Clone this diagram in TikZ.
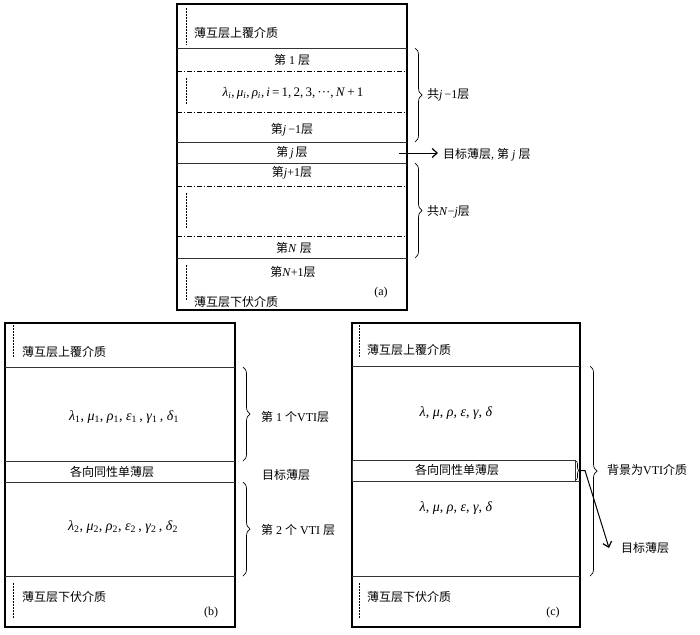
\documentclass[tikz,border=0pt]{standalone}
\usepackage{fontspec}
\setmainfont{Liberation Serif}
\newfontfamily\cjk{Noto Sans CJK SC}
\usetikzlibrary{decorations.pathreplacing,arrows.meta}

\newcommand\zh[1]{{\cjk #1}}
\newcommand\vi[1]{\textit{#1}}
\newcommand\sbs[1]{\textsubscript{#1}}

\begin{document}
\begin{tikzpicture}[x=1pt,y=-1pt,
	frame/.style={line width=1.1pt},
	sep/.style={line width=0.7pt, black!80},
	ddot/.style={line width=0.7pt, dash pattern=on 5pt off 2pt on 1pt off 2pt},
	tick/.style={line width=0.8pt, dash pattern=on 2pt off 1pt},
	brc/.style={decorate, decoration={brace, amplitude=7pt}, line width=0.7pt},
	txt/.style={inner sep=1pt, font=\fontsize{12}{14}\selectfont},
	formula/.style={font=\fontsize{14}{16}\selectfont},
	every node/.style={txt}]

	\useasboundingbox (0,0) rectangle (700,634);

	% ---- panel (a)

	\def\al{177}
	\def\ar{407}

	\draw[frame] (\al,4) rectangle (\ar,310);
	\draw[sep] (\al,48) -- (\ar,48);
	\draw[ddot] (\al,71) -- (\ar,71);
	\draw[ddot] (\al,112) -- (\ar,112);
	\draw[sep] (\al,142) -- (\ar,142);
	\draw[sep] (\al,163) -- (\ar,163);
	\draw[ddot] (\al,186) -- (\ar,186);
	\draw[ddot] (\al,236) -- (\ar,236);
	\draw[sep] (\al,258) -- (\ar,258);

	\foreach \ya/\yb in {8/45, 78/104, 193/228, 265/300} {
		\draw[tick] (186,\ya) -- (186,\yb);
	}

	\node[anchor=west] (topa) at (193,33) {\zh{薄互层上覆介质}};
	\node (l1a) at (292,60) {\zh{第} 1 \zh{层}};
	\node[font=\fontsize{13}{15}\selectfont] (pa) at (293,93) {\vi{λ}\sbs{\vi{i}},\,\vi{μ}\sbs{\vi{i}},\,\vi{ρ}\sbs{\vi{i}},\,\vi{i}\,=\,1,\,2,\,3,\,···,\,\vi{N}\,+\,1};
	\node (ljm) at (292,130) {\zh{第}\vi{j}\,−1\zh{层}};
	\node (lj) at (292,153) {\zh{第}\,\vi{j}\,\zh{层}};
	\node (ljp) at (292,173) {\zh{第}\vi{j}+1\zh{层}};
	\node (lN) at (294,248) {\zh{第}\vi{N} \zh{层}};
	\node (lNp) at (293,272) {\zh{第}\vi{N}+1\zh{层}};
	\node[anchor=west] (bota) at (193,302) {\zh{薄互层下伏介质}};
	\node (taga) at (381,293) {(a)};

	\draw[brc] (415,48) -- (415,142);
	\draw[brc] (415,163) -- (415,258);
	\node[anchor=west] (upa) at (426,95) {\zh{共}\vi{j}\,−1\zh{层}};
	\node[anchor=west] (dna) at (426,212) {\zh{共}\vi{N}−\vi{j}\zh{层}};

	\coordinate (ja) at (399,153);
	\node[anchor=west] (tgta) at (442,155) {\zh{目标薄层}, \zh{第} \vi{j} \zh{层}};
	\draw[line width=1pt, -{Straight Barb[length=5pt,width=9pt,line width=1.2pt]}] (ja) -- ([xshift=-4pt]tgta.west |- ja);

	% ---- panel (b)

	\def\bl{5}
	\def\br{235}

	\draw[frame] (\bl,323) rectangle (\br,627);
	\draw[sep] (\bl,367) -- (\br,367);
	\draw[sep] (\bl,461) -- (\br,461);
	\draw[sep] (\bl,482) -- (\br,482);
	\draw[sep] (\bl,576) -- (\br,576);

	\draw[tick] (13,325) -- (13,357);
	\draw[tick] (13,583) -- (13,618);

	\node[anchor=west] (topb) at (21,352) {\zh{薄互层上覆介质}};
	\node[formula] (p1b) at (124,417) {\vi{λ}\sbs{1}, \vi{μ}\sbs{1}, \vi{ρ}\sbs{1}, \vi{ε}\sbs{1}\,, \vi{γ}\sbs{1}\,, \vi{δ}\sbs{1}};
	\node (isob) at (112,472) {\zh{各向同性单薄层}};
	\node[formula] (p2b) at (123,527) {\vi{λ}\sbs{2}, \vi{μ}\sbs{2}, \vi{ρ}\sbs{2}, \vi{ε}\sbs{2}\,, \vi{γ}\sbs{2}\,, \vi{δ}\sbs{2}};
	\node[anchor=west] (botb) at (21,597) {\zh{薄互层下伏介质}};
	\node (tagb) at (211,613) {(b)};

	\draw[brc] (243,367) -- (243,461);
	\draw[brc] (243,482) -- (243,576);
	\node[anchor=west] (vt1) at (260,417) {\zh{第} 1 \zh{个}VTI\zh{层}};
	\node[anchor=west] (tgtb) at (261,475) {\zh{目标薄层}};
	\node[anchor=west] (vt2) at (260,530) {\zh{第} 2 \zh{个} VTI \zh{层}};

	% ---- panel (c)

	\def\cl{352}
	\def\cr{580}

	\draw[frame] (\cl,323) rectangle (\cr,627);
	\draw[sep] (\cl,366) -- (\cr,366);
	\draw[sep] (\cl,460) rectangle (575,481);
	\draw[sep] (575,481) -- (\cr,481);
	\draw[sep] (\cl,576) -- (\cr,576);

	\draw[tick] (359,325) -- (359,358);
	\draw[tick] (359,583) -- (359,618);

	\node[anchor=west] (topc) at (366,350) {\zh{薄互层上覆介质}};
	\node[formula] (p1c) at (456,413) {\vi{λ}, \vi{μ}, \vi{ρ}, \vi{ε}, \vi{γ}, \vi{δ}};
	\node (isoc) at (457,470) {\zh{各向同性单薄层}};
	\node[formula] (p2c) at (456,508) {\vi{λ}, \vi{μ}, \vi{ρ}, \vi{ε}, \vi{γ}, \vi{δ}};
	\node[anchor=west] (botc) at (366,597) {\zh{薄互层下伏介质}};
	\node (tagc) at (553,613) {(c)};

	\draw[brc] (590,366) -- (590,576);
	\node[anchor=west] (bgc) at (606,470) {\zh{背景为}VTI\zh{介质}};

	\draw[decorate, decoration={brace, amplitude=3pt}, line width=0.6pt] (576,461) -- (576,480);
	\coordinate (tipc) at (579,470.5);
	\coordinate (bendc) at (585,470.5);
	\node[anchor=west] (tgtc) at (620,548) {\zh{目标薄层}};
	\draw[line width=1pt, -{Straight Barb[length=5pt,width=9pt,line width=1.2pt]}] (tipc) -- (bendc) -- ([xshift=-11pt]tgtc.west);

\end{tikzpicture}
\end{document}
